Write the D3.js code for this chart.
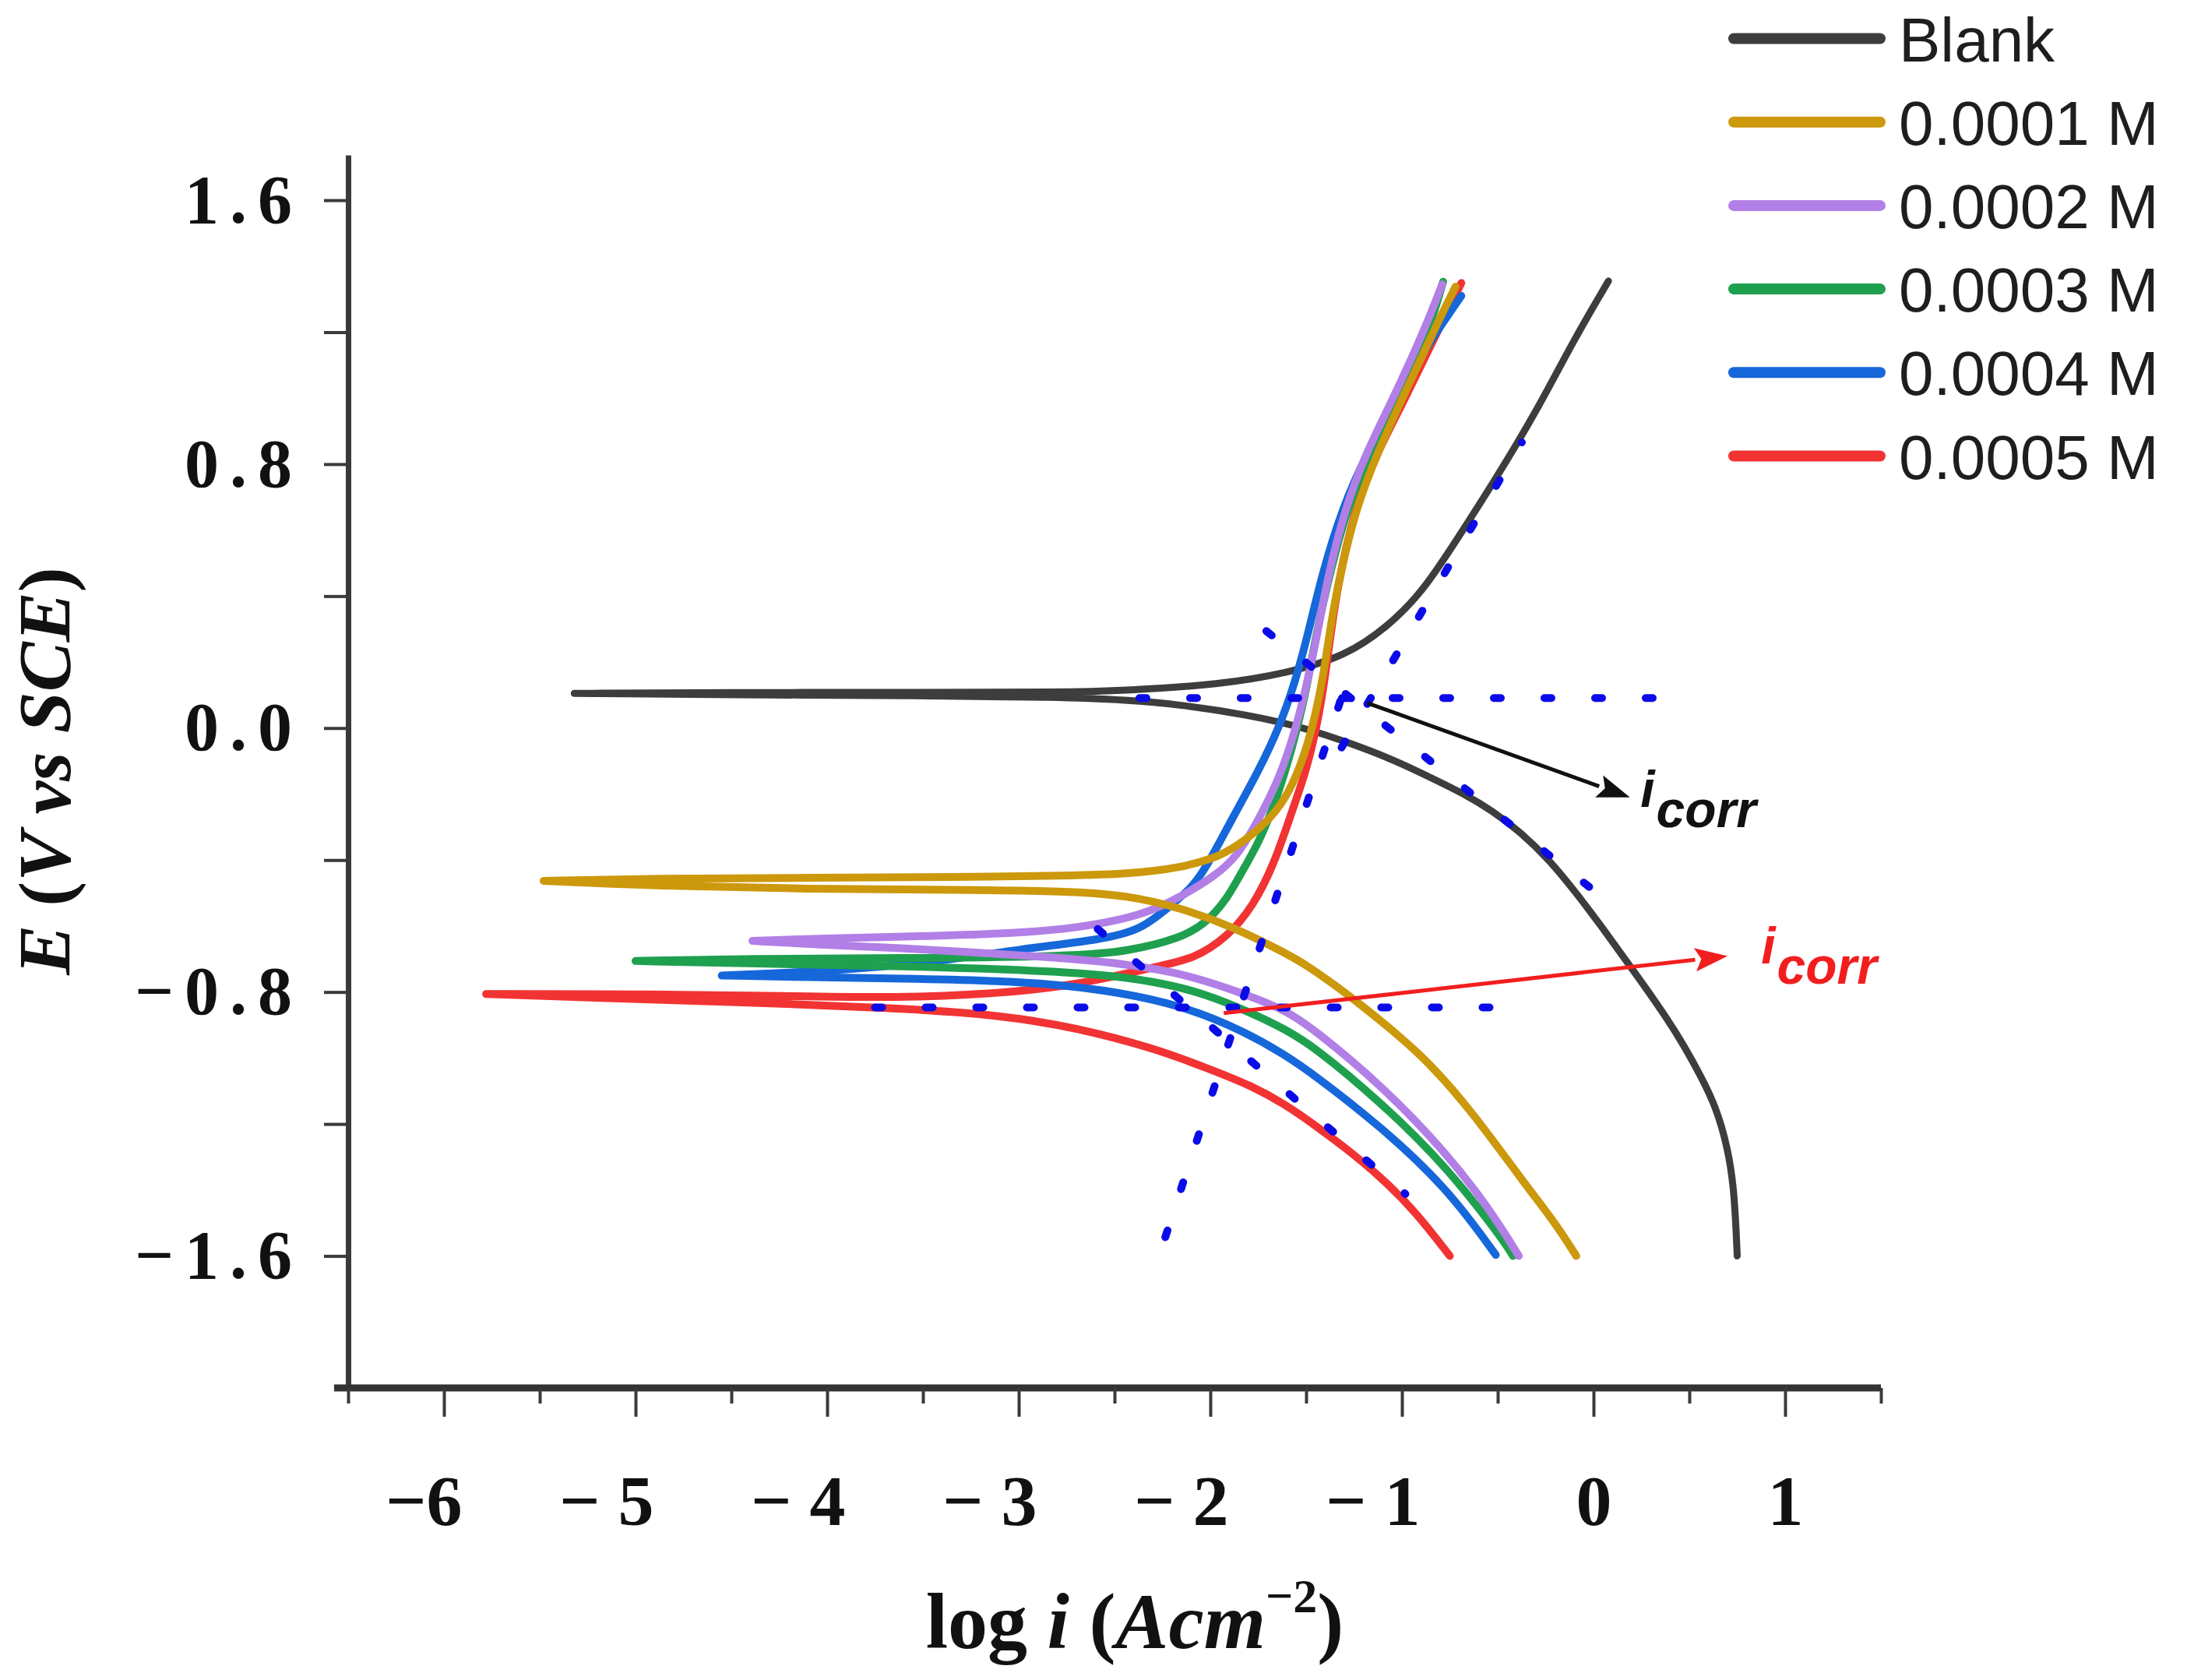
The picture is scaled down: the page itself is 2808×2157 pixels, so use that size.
<!DOCTYPE html>
<meta charset="utf-8">
<script src="https://d3js.org/d3.v7.min.js"></script>
<style>
  body { margin: 0; background: #fff; }
  svg { display: block; }
</style>
<div id="viz"></div>
<script>
// series names and colours (legend order)
const seriesNames = ["Blank", "0.0001 M", "0.0002 M", "0.0003 M", "0.0004 M", "0.0005 M"];
const seriesColors = ["#3d3d3d", "#cc980c", "#b27fe6", "#1fa04f", "#1667da", "#f23333"];

// curves as [log i, E], cathodic end -> Ecorr tip -> anodic end
const blank = [[0.75,-1.60],[0.735,-1.40],[0.70,-1.27],[0.64,-1.15],[0.565,-1.06],[0.47,-0.96],[0.383,-0.88],[0.27,-0.785],[0.164,-0.70],[0.04,-0.60],[-0.09,-0.50],[-0.23,-0.40],[-0.381,-0.315],[-0.53,-0.25],[-0.673,-0.20],[-0.85,-0.15],[-1.036,-0.098],[-1.25,-0.05],[-1.5,0.0],[-1.8,0.04],[-2.17,0.072],[-2.43,0.085],[-2.8,0.094],[-3.5,0.098],[-4.5,0.101],[-5.32,0.105],
  [-4.5,0.108],[-3.5,0.108],[-2.8,0.108],[-2.43,0.114],[-1.95,0.132],[-1.6,0.166],[-1.29,0.219],[-1.07,0.309],[-0.89,0.415],[-0.72,0.565],[-0.52,0.746],[-0.30,0.957],[-0.1,1.18],[0.078,1.355]];
const m0001 = [[-0.09,-1.60],[-0.2,-1.50],[-0.34,-1.396],[-0.645,-1.154],[-0.85,-1.02],[-1.0,-0.94],[-1.206,-0.842],[-1.341,-0.783],[-1.48,-0.725],[-1.612,-0.68],[-1.883,-0.602],[-2.154,-0.545],[-2.43,-0.507],[-2.75,-0.494],[-3.3,-0.49],[-4.1,-0.488],[-4.9,-0.478],[-5.48,-0.463],
  [-4.9,-0.456],[-4.1,-0.454],[-3.3,-0.452],[-2.85,-0.448],[-2.43,-0.443],[-2.15,-0.423],[-1.95,-0.39],[-1.82,-0.342],[-1.68,-0.272],[-1.585,-0.193],[-1.504,-0.075],[-1.45,0.043],[-1.409,0.161],[-1.37,0.32],[-1.325,0.46],[-1.24,0.668],[-1.12,0.845],[-0.99,1.01],[-0.86,1.17],[-0.80,1.245],[-0.72,1.338]];
const m0002 = [[-0.39,-1.60],[-0.528,-1.47],[-0.761,-1.291],[-1.111,-1.08],[-1.462,-0.912],[-1.612,-0.853],[-1.85,-0.80],[-2.162,-0.738],[-2.63,-0.701],[-3.1,-0.685],[-3.645,-0.665],[-4.0,-0.658],[-4.39,-0.645],
  [-4.0,-0.637],[-3.645,-0.633],[-3.0,-0.622],[-2.697,-0.606],[-2.36,-0.57],[-2.15,-0.51],[-1.98,-0.45],[-1.86,-0.39],[-1.75,-0.28],[-1.64,-0.153],[-1.558,-0.012],[-1.49,0.146],[-1.43,0.32],[-1.39,0.45],[-1.30,0.66],[-1.19,0.83],[-1.07,0.97],[-0.95,1.12],[-0.86,1.24],[-0.79,1.345]];
const m0003 = [[-0.42,-1.60],[-0.481,-1.544],[-0.761,-1.333],[-1.111,-1.133],[-1.462,-0.964],[-1.612,-0.912],[-1.78,-0.865],[-2.019,-0.806],[-2.29,-0.767],[-2.66,-0.739],[-3.645,-0.72],[-4.4,-0.714],[-5.0,-0.706],
  [-4.4,-0.699],[-3.645,-0.698],[-2.697,-0.692],[-2.425,-0.676],[-2.154,-0.637],[-2.019,-0.59],[-1.91,-0.515],[-1.85,-0.45],[-1.748,-0.35],[-1.654,-0.216],[-1.572,-0.059],[-1.504,0.098],[-1.45,0.279],[-1.38,0.46],[-1.29,0.66],[-1.17,0.83],[-1.05,0.97],[-0.93,1.12],[-0.84,1.24],[-0.785,1.353]];
const m0004 = [[-0.51,-1.597],[-0.761,-1.396],[-1.111,-1.207],[-1.462,-1.049],[-1.612,-0.99],[-1.812,-0.922],[-2.154,-0.838],[-2.561,-0.792],[-2.968,-0.767],[-3.645,-0.759],[-4.1,-0.755],[-4.55,-0.75],
  [-4.0,-0.737],[-3.5,-0.714],[-2.968,-0.668],[-2.561,-0.641],[-2.358,-0.61],[-2.222,-0.545],[-2.086,-0.48],[-2.0,-0.40],[-1.883,-0.271],[-1.748,-0.13],[-1.639,0.004],[-1.558,0.138],[-1.49,0.285],[-1.42,0.46],[-1.31,0.67],[-1.178,0.838],[-1.056,0.963],[-0.934,1.097],[-0.812,1.207],[-0.69,1.31]];
const m0005 = [[-0.75,-1.60],[-0.93,-1.465],[-1.111,-1.36],[-1.30,-1.27],[-1.462,-1.20],[-1.612,-1.14],[-1.78,-1.085],[-2.019,-1.03],[-2.29,-0.971],[-2.697,-0.908],[-3.103,-0.869],[-3.645,-0.848],[-4.5,-0.83],[-5.2,-0.818],[-5.78,-0.806],
  [-5.0,-0.806],[-4.2,-0.812],[-3.645,-0.818],[-3.1,-0.805],[-2.697,-0.779],[-2.29,-0.724],[-2.086,-0.70],[-1.91,-0.633],[-1.775,-0.539],[-1.666,-0.41],[-1.585,-0.271],[-1.504,-0.138],[-1.45,-0.012],[-1.409,0.122],[-1.382,0.24],[-1.34,0.42],[-1.25,0.66],[-1.13,0.835],[-1.00,0.98],[-0.90,1.10],[-0.79,1.23],[-0.69,1.349]];
const curves = [blank, m0001, m0002, m0003, m0004, m0005];
const drawOrder = [0, 5, 4, 3, 2, 1];

// Tafel extrapolation lines (dotted)
const tafelLines = [
  [[-2.37, 0.091], [0.32, 0.091]],
  [[-1.708, 0.294], [0.155, -0.563]],
  [[-1.315, -0.059], [-0.374, 0.866]],
  [[-3.75, -0.847], [-0.34, -0.847]],
  [[-2.235, -1.543], [-1.312, 0.099]],
  [[-2.588, -0.609], [-0.982, -1.412]]
];
// i_corr arrows: [from, to], colour, label position
const arrows = [
  {from: [-1.181, 0.076], to: [0.19, -0.21], color: "#111", label: [0.245, -0.24]},
  {from: [-1.93, -0.864], to: [0.70, -0.691], color: "#f21e1e", label: [0.875, -0.713]}
];

// ticks
const xTicks = [-6, -5, -4, -3, -2, -1, 0, 1];
const xTickLabels = ["\u22126", "\u2212 5", "\u2212 4", "\u2212 3", "\u2212 2", "\u2212 1", "0", "1"];
const xMinorTicks = [-6.5, -5.5, -4.5, -3.5, -2.5, -1.5, -0.5, 0.5, 1.5];
const yTicks = [-1.6, -1.2, -0.8, -0.4, 0, 0.4, 0.8, 1.2, 1.6];
const yTickLabels = {"-1.6": "\u22121.6", "-0.8": "\u22120.8", "0": "0.0", "0.8": "0.8", "1.6": "1.6"};

const W = 2808, H = 2157;
const svg = d3.select("#viz").append("svg")
  .attr("width", W).attr("height", H)
  .style("background", "#fff");

const x = d3.scaleLinear().domain([-6.5, 1.5]).range([447, 2415]);
const y = d3.scaleLinear().domain([-2, 1.737]).range([1782, 199]);

// Y axis
const yAxis = svg.append("g")
  .attr("transform", `translate(${x(-6.5)},0)`)
  .call(d3.axisLeft(y).tickValues(yTicks).tickSize(31).tickSizeOuter(0).tickPadding(27)
    .tickFormat(d => yTickLabels[String(+d.toFixed(1))] || ""));
yAxis.select(".domain").attr("stroke", "#3a3a3a").attr("stroke-width", 7);
yAxis.selectAll(".tick line").attr("stroke", "#3a3a3a").attr("stroke-width", 4);
yAxis.selectAll(".tick text")
  .attr("font-family", "'Liberation Serif', 'DejaVu Serif', serif")
  .attr("font-weight", "bold").attr("font-size", 88)
  .attr("letter-spacing", 14).attr("fill", "#111");

// X axis
const xAxisG = svg.append("g").attr("transform", `translate(0,${y(-2)})`);
xAxisG.call(d3.axisBottom(x).tickValues(xMinorTicks).tickSize(20).tickSizeOuter(0).tickFormat(""));
xAxisG.selectAll(".tick line").attr("stroke", "#3a3a3a").attr("stroke-width", 4);
const xMajor = svg.append("g").attr("transform", `translate(0,${y(-2)})`)
  .call(d3.axisBottom(x).tickValues(xTicks).tickSize(37).tickSizeOuter(0)
    .tickFormat((d, i) => xTickLabels[i]));
xMajor.select(".domain").remove();
xAxisG.select(".domain").attr("stroke", "#333").attr("stroke-width", 9)
  .attr("d", `M${x(-6.5) - 18},0H${x(1.5)}`);
xMajor.selectAll(".tick line").attr("stroke", "#3a3a3a").attr("stroke-width", 4);
xMajor.selectAll(".tick text")
  .attr("font-family", "'Liberation Serif', 'DejaVu Serif', serif")
  .attr("font-weight", "bold").attr("font-size", 92).attr("fill", "#111")
  .attr("text-anchor", "end").attr("y", 176).attr("dy", 0).attr("dx", "0.25em");

// axis titles
const yTitle = svg.append("text")
  .attr("transform", "translate(90,990) rotate(-90)")
  .attr("text-anchor", "middle")
  .attr("font-family", "'Liberation Serif', 'DejaVu Serif', serif")
  .attr("font-weight", "bold").attr("font-size", 96).attr("fill", "#111");
yTitle.append("tspan").attr("font-style", "italic").text("E");
yTitle.append("tspan").text(" (");
yTitle.append("tspan").attr("font-style", "italic").text("V vs SCE");
yTitle.append("tspan").text(")");

const xTitle = svg.append("text")
  .attr("x", 1457).attr("y", 2116)
  .attr("text-anchor", "middle")
  .attr("font-family", "'Liberation Serif', 'DejaVu Serif', serif")
  .attr("font-weight", "bold").attr("font-size", 102).attr("fill", "#111");
xTitle.append("tspan").text("log ");
xTitle.append("tspan").attr("font-style", "italic").text("i");
xTitle.append("tspan").text(" (");
xTitle.append("tspan").attr("font-style", "italic").text("Acm");
xTitle.append("tspan").attr("font-size", 62).attr("dy", -46).text("\u22122");
xTitle.append("tspan").attr("dy", 46).text(")");

// curves: each drawn as two smoothed branches meeting at the Ecorr tip
const line = d3.line()
  .x(d => x(d[0])).y(d => y(d[1]))
  .curve(d3.curveBasis);
function polPath(c) {
  const tip = d3.minIndex(c, d => d[0]);
  return line(c.slice(0, tip + 1)) + line(c.slice(tip));
}

svg.append("g").selectAll("path")
  .data(drawOrder)
  .join("path")
    .attr("d", i => polPath(curves[i]))
    .attr("fill", "none")
    .attr("stroke", i => seriesColors[i])
    .attr("stroke-width", i => i === 0 ? 9 : 10)
    .attr("stroke-linecap", "round")
    .attr("stroke-linejoin", "round");

// dotted Tafel lines
svg.append("g").selectAll("line")
  .data(tafelLines)
  .join("line")
    .attr("x1", d => x(d[0][0])).attr("y1", d => y(d[0][1]))
    .attr("x2", d => x(d[1][0])).attr("y2", d => y(d[1][1]))
    .attr("stroke", "#0b0be8")
    .attr("stroke-width", 10)
    .attr("stroke-linecap", "round")
    .attr("stroke-dasharray", "9 56");

// arrows
const arrowG = svg.append("g");
arrows.forEach(a => {
  const x1 = x(a.from[0]), y1 = y(a.from[1]), x2 = x(a.to[0]), y2 = y(a.to[1]);
  const ang = Math.atan2(y2 - y1, x2 - x1);
  const len = 42, half = 15;
  const bx = x2 - len * Math.cos(ang), by = y2 - len * Math.sin(ang);
  arrowG.append("line")
    .attr("x1", x1).attr("y1", y1).attr("x2", bx).attr("y2", by)
    .attr("stroke", a.color).attr("stroke-width", 5);
  arrowG.append("polygon")
    .attr("points", [
      [x2, y2],
      [bx - half * Math.sin(ang), by + half * Math.cos(ang)],
      [bx + 8 * Math.cos(ang), by + 8 * Math.sin(ang)],
      [bx + half * Math.sin(ang), by - half * Math.cos(ang)]
    ].map(p => p.join(",")).join(" "))
    .attr("fill", a.color);
  const t = arrowG.append("text")
    .attr("x", x(a.label[0])).attr("y", y(a.label[1]))
    .attr("font-family", "'Liberation Sans', Arial, sans-serif")
    .attr("font-style", "italic").attr("font-weight", "bold").attr("font-size", 66)
    .attr("fill", a.color);
  t.append("tspan").text("i");
  t.append("tspan").attr("dy", 26).attr("dx", 2).text("corr");
});

// legend
const legend = svg.append("g");
const legY0 = 49.5, legStep = 107.2;
seriesNames.forEach((name, i) => {
  legend.append("line")
    .attr("x1", 2226).attr("x2", 2414)
    .attr("y1", legY0 + i * legStep).attr("y2", legY0 + i * legStep)
    .attr("stroke", seriesColors[i]).attr("stroke-width", 14)
    .attr("stroke-linecap", "round");
  legend.append("text")
    .attr("x", 2438).attr("y", legY0 + i * legStep + 29)
    .attr("font-family", "'Liberation Sans', Arial, sans-serif")
    .attr("font-size", 80).attr("fill", "#1e1e1e")
    .text(name);
});
</script>
